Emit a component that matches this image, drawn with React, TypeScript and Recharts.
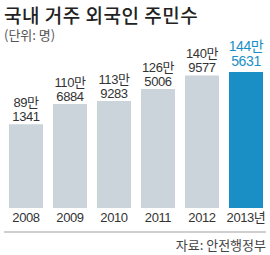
import { Bar, BarChart, Cell, LabelList, XAxis, YAxis } from "recharts";

const years = ["2008", "2009", "2010", "2011", "2012", "2013년"];
const residents = [891341, 1106884, 1139283, 1265006, 1409577, 1445631];

const barColors = ["#cbd4db", "#cbd4db", "#cbd4db", "#cbd4db", "#cbd4db", "#1a8fc5"];

const data = years.map((year, i) => ({ year, residents: residents[i] }));

const FONT = "'Liberation Sans', 'Noto Sans CJK KR', sans-serif";
const KFONT = "'Noto Sans CJK KR', sans-serif";

const ValueLabel = (props: any) => {
  const { x, y, width, value, index } = props;
  const top = `${Math.floor(value / 10000)}만`;
  const bottom = String(value % 10000);
  const last = index === residents.length - 1;
  const cx = x + width / 2;
  const size = last ? 14 : 13;
  const fill = last ? "#1a8fc5" : "#333";
  const base = y - (last ? 6 : 3);
  return (
    <text x={cx} y={base} textAnchor="middle" fontSize={size} fill={fill} fontFamily={FONT} letterSpacing={-0.4}>
      <tspan x={cx} y={base - size - 1}>{top}</tspan>
      <tspan x={cx} y={base}>{bottom}</tspan>
    </text>
  );
};

export default function App() {
  return (
    <div style={{ position: "relative", width: 270, height: 255, background: "#fff" }}>
      <style>{"body{margin:0}"}</style>
      <div style={{ position: "absolute", left: 4, top: 5, lineHeight: "19px", fontFamily: KFONT, fontSize: 19, fontWeight: 500, color: "#222", letterSpacing: 0.5, whiteSpace: "nowrap" }}>
        국내 거주 외국인 주민수
      </div>
      <div style={{ position: "absolute", left: 4, top: 28, lineHeight: "13px", fontFamily: KFONT, fontSize: 13, color: "#555", whiteSpace: "nowrap" }}>
        (단위: 명)
      </div>
      <BarChart width={270} height={255} data={data} margin={{ top: 67, right: 2, bottom: 27, left: 4 }}>
        <XAxis
          dataKey="year"
          axisLine={false}
          tickLine={false}
          tickSize={0}
          tickMargin={5}
          height={20}
          interval={0}
          tick={{ fontSize: 13, fill: "#333", fontFamily: FONT, letterSpacing: -0.4 }}
        />
        <YAxis hide domain={[0, 1500000]} />
        <Bar dataKey="residents" barSize={34} isAnimationActive={false}>
          {data.map((d, i) => (
            <Cell key={d.year} fill={barColors[i]} />
          ))}
          <LabelList dataKey="residents" content={<ValueLabel />} />
        </Bar>
      </BarChart>
      <div style={{ position: "absolute", left: 4, right: 4, top: 231, height: 2, background: "#cfcfcf" }} />
      <div style={{ position: "absolute", right: 4, top: 238, lineHeight: "13px", fontFamily: KFONT, fontSize: 13, color: "#444", whiteSpace: "nowrap" }}>
        자료: 안전행정부
      </div>
    </div>
  );
}
